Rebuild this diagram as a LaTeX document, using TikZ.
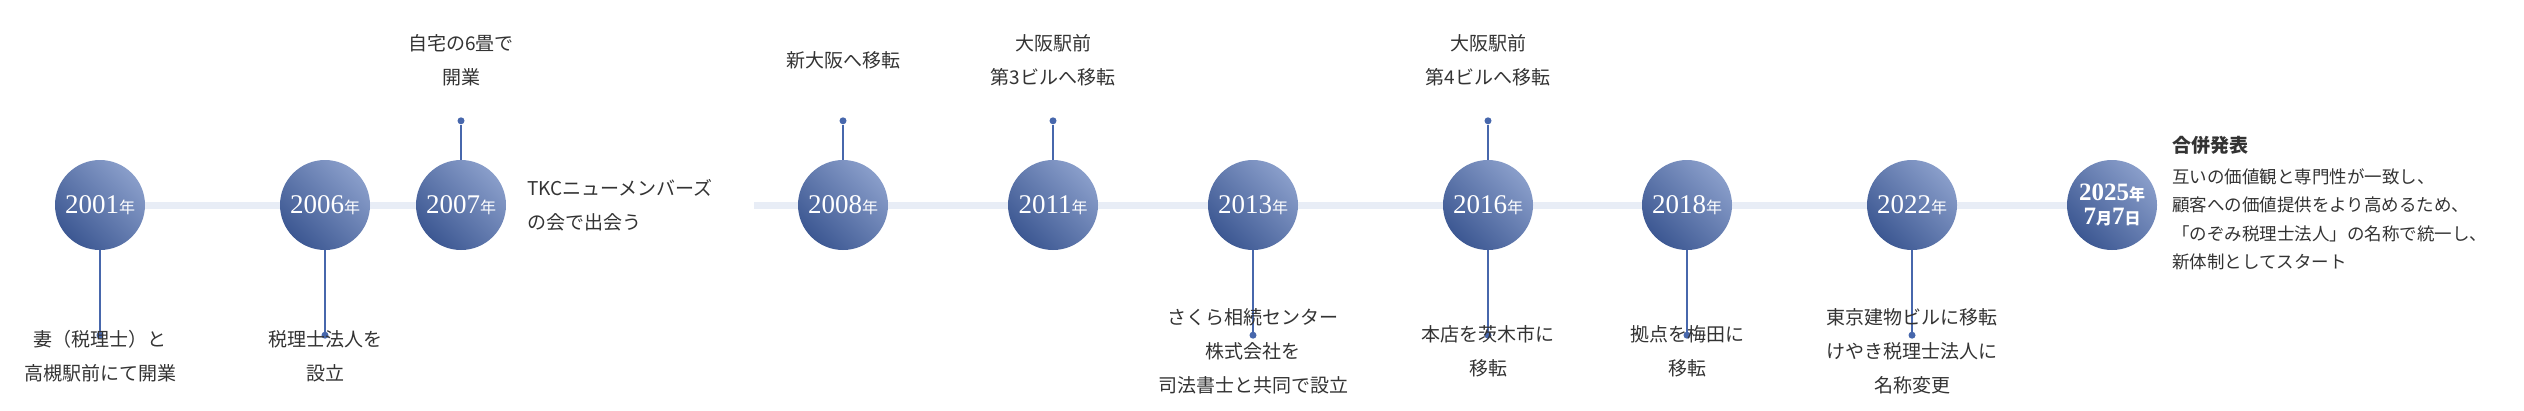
\documentclass[tikz,border=0pt]{standalone}
\usepackage{fontspec}
\setmainfont{Noto Sans CJK JP}
\newfontfamily\yr{Liberation Serif}
\newfontfamily\jp{Noto Sans CJK JP}
\definecolor{bar}{HTML}{E8EDF6}
\definecolor{blu}{HTML}{4767AC}
\definecolor{txt}{HTML}{333333}
\begin{document}
\begin{tikzpicture}[x=1pt,y=-1pt,
  yearc/.style={circle,minimum size=90pt,inner sep=0pt,left color=blu!60!white!90!blu,right color=blu!85!black,shading angle=-45,text=white,align=center,font=\yr\fontsize{27}{28}\selectfont},
  lbl/.style={align=center,text=txt,font=\fontsize{19}{34}\selectfont,inner sep=0pt},
  stem/.style={draw=blu,line width=1.6pt},
  dot/.style={circle,fill=blu,minimum size=7pt,inner sep=0pt}]
\useasboundingbox (0,0) rectangle (2524,410);
\newcommand\nen{{\jp\fontsize{16}{16}\selectfont 年}}
% bars
\coordinate (b1) at (100,205); \coordinate (b2) at (505,205);
\coordinate (b3) at (754,205); \coordinate (b4) at (2112,205);
\draw[bar,line width=7pt] (b1)--(b2); \draw[bar,line width=7pt] (b3)--(b4);
% circles
\foreach \n/\x/\t in {c1/100/2001,c2/325/2006,c3/461/2007,c4/843/2008,c5/1053/2011,c6/1253/2013,c7/1488/2016,c8/1687/2018,c9/1912/2022}
  \node[yearc] (\n) at (\x,205) {\t\nen};
\node[yearc,font=\yr\bfseries\fontsize{25}{28}\selectfont] (c10) at (2112,205) {2025\nen\\[-4pt]7{\jp\fontsize{16}{16}\selectfont 月}7{\jp\fontsize{16}{16}\selectfont 日}};
% stems down
\foreach \n/\d in {c1/d1,c2/d2,c6/d6,c7/d7,c8/d8,c9/d9}{
  \path (\n.south) ++(0,85) node[dot] (\d) {};
  \draw[stem] (\n.south)--(\d);}
% stems up
\foreach \n/\d in {c3/u3,c4/u4,c5/u5,c7/u7}{
  \path (\n.north) ++(0,-39) node[dot] (\d) {};
  \draw[stem] (\n.north)--(\d);}
% labels below
\node[lbl,anchor=north] (t1) at (100,330) {妻（税理士）と\\高槻駅前にて開業};
\node[lbl,anchor=north] (t2) at (325,330) {税理士法人を\\設立};
\node[lbl,anchor=north] (t6) at (1253,308) {さくら相続センター\\株式会社を\\司法書士と共同で設立};
\node[lbl,anchor=north] (t7) at (1488,325) {本店を茨木市に\\移転};
\node[lbl,anchor=north] (t8) at (1687,325) {拠点を梅田に\\移転};
\node[lbl,anchor=north] (t9) at (1912,308) {東京建物ビルに移転\\けやき税理士法人に\\名称変更};
% labels above
\node[lbl,anchor=north] (s3) at (461,34) {自宅の6畳で\\開業};
\node[lbl,anchor=north] (s4) at (843,51) {新大阪へ移転};
\node[lbl,anchor=north] (s5) at (1053,34) {大阪駅前\\第3ビルへ移転};
\node[lbl,anchor=north] (s7) at (1488,34) {大阪駅前\\第4ビルへ移転};
% side labels
\node[lbl,anchor=west,align=left] (tk) at (527,205) {TKCニューメンバーズ\\の会で出会う};
\node[anchor=north west,inner sep=0pt,text=txt,font=\bfseries\fontsize{19}{20}\selectfont] (h) at (2172,136) {合併発表};
\node[anchor=north west,inner sep=0pt,text=txt,align=left,font=\fontsize{17.5}{28.5}\selectfont] (p) at (2172,168) {互いの価値観と専門性が一致し、\\顧客への価値提供をより高めるため、\\「のぞみ税理士法人」の名称で統一し、\\新体制としてスタート};
\end{tikzpicture}
\end{document}
